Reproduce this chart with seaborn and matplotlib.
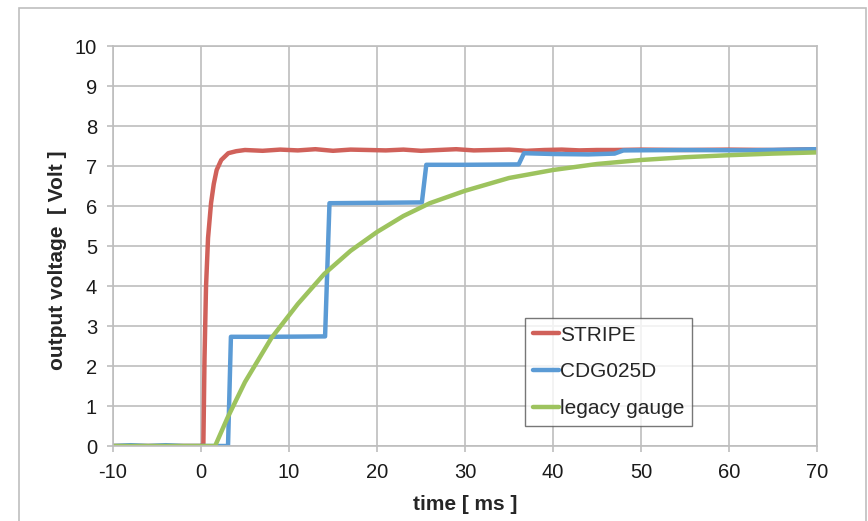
import numpy as np
import pandas as pd
import seaborn as sns
import matplotlib.pyplot as plt
from matplotlib.patches import Rectangle

# STRIPE sensor
stripe_t = [-10, -5, 0, 0.27, 0.4, 0.57, 0.8, 1.14, 1.45, 1.78, 2.3, 3.1, 4.0, 5.0,
            7, 9, 11, 13, 15, 17, 19, 21, 23, 25, 27, 29, 31, 33, 35, 37, 39, 41,
            43, 45, 47, 50, 55, 60, 65, 70]
stripe_v = [0, 0, 0, 0.05, 2.2, 3.98, 5.2, 6.07, 6.55, 6.9, 7.15, 7.32, 7.37, 7.4,
            7.38, 7.41, 7.39, 7.42, 7.38, 7.41, 7.4, 7.39, 7.41, 7.38, 7.4, 7.42,
            7.39, 7.4, 7.41, 7.38, 7.4, 7.41, 7.39, 7.4, 7.4, 7.41, 7.4, 7.41, 7.4, 7.42]

# CDG025D gauge (stepped output)
cdg_t = [-10, -8, -6, -4, -2, 0, 2, 3.07, 3.4, 8, 14.1, 14.6, 20, 25.1, 25.6, 30,
         36.1, 36.7, 40, 44, 47.0, 48.0, 55, 62, 70]
cdg_v = [0.0, 0.02, 0.0, 0.02, 0.0, 0.0, 0.0, 0.0, 2.73, 2.73, 2.74, 6.07, 6.08, 6.09,
         7.03, 7.03, 7.04, 7.32, 7.3, 7.29, 7.31, 7.39, 7.4, 7.39, 7.42]

# legacy gauge
legacy_t = [-10, 0, 1.6, 3, 5, 8, 11, 14, 17, 20, 23, 26, 30, 35, 40, 45, 50, 55,
            60, 65, 70]
legacy_v = [0, 0, 0, 0.7, 1.6, 2.7, 3.55, 4.3, 4.88, 5.35, 5.75, 6.07, 6.38, 6.7,
            6.9, 7.05, 7.15, 7.22, 7.27, 7.31, 7.34]

series = ["STRIPE", "CDG025D", "legacy gauge"]
colors = ["#D0615A", "#5B9BD5", "#9DC35E"]

df = pd.concat([
    pd.DataFrame({"time": stripe_t, "volt": stripe_v, "sensor": series[0]}),
    pd.DataFrame({"time": cdg_t, "volt": cdg_v, "sensor": series[1]}),
    pd.DataFrame({"time": legacy_t, "volt": legacy_v, "sensor": series[2]}),
], ignore_index=True)

sns.set_style("white")
plt.rcParams["font.family"] = ["Liberation Sans", "DejaVu Sans"]
plt.rcParams["axes.unicode_minus"] = False
grid_col = "#BEBEBE"

fig = plt.figure(figsize=(8.68, 5.21), dpi=100)
ax = fig.add_axes([113 / 868, 1 - 446 / 521, 704 / 868, 400 / 521])

sns.lineplot(data=df, x="time", y="volt", hue="sensor", palette=colors,
             sort=False, estimator=None, linewidth=3.2, ax=ax)

ax.set_xlim(-10, 70)
ax.set_ylim(0, 10)
ax.set_xticks(range(-10, 71, 10))
ax.set_yticks(range(0, 11))
ax.grid(True, color=grid_col, linewidth=1.2)
ax.set_axisbelow(True)
for s in ax.spines.values():
    s.set_color(grid_col)
    s.set_linewidth(1.2)
ax.tick_params(axis="both", direction="out", length=4, width=1.2, color=grid_col,
               labelsize=14.5, labelcolor="#1a1a1a")
ax.tick_params(axis="x", pad=8.4)
ax.tick_params(axis="y", pad=7.5)
ax.tick_params(left=True, bottom=True)

ax.set_xlabel("time [ ms ]", fontsize=15, fontweight="bold", labelpad=9)
ax.set_ylabel("output voltage  [ Volt ]", fontsize=15, fontweight="bold")
ax.yaxis.set_label_coords(-0.0653, 0.465)

leg = ax.legend(loc="lower left", bbox_to_anchor=(0.585, 0.05), fontsize=15,
                frameon=True, fancybox=False, handlelength=1.25, handletextpad=0.05,
                labelspacing=0.85, borderpad=0.38, borderaxespad=0)
leg.get_frame().set_edgecolor("#555555")
leg.get_frame().set_linewidth(1.0)
for line in leg.get_lines():
    line.set_linewidth(3.2)

# outer chart frame
fig.patches.append(Rectangle((19 / 868, -0.05), 847 / 868, 1 - 8 / 521 + 0.05,
                             transform=fig.transFigure, fill=False,
                             edgecolor="#BFBFBF", linewidth=1.2))

fig.savefig("out.png", dpi=100)
